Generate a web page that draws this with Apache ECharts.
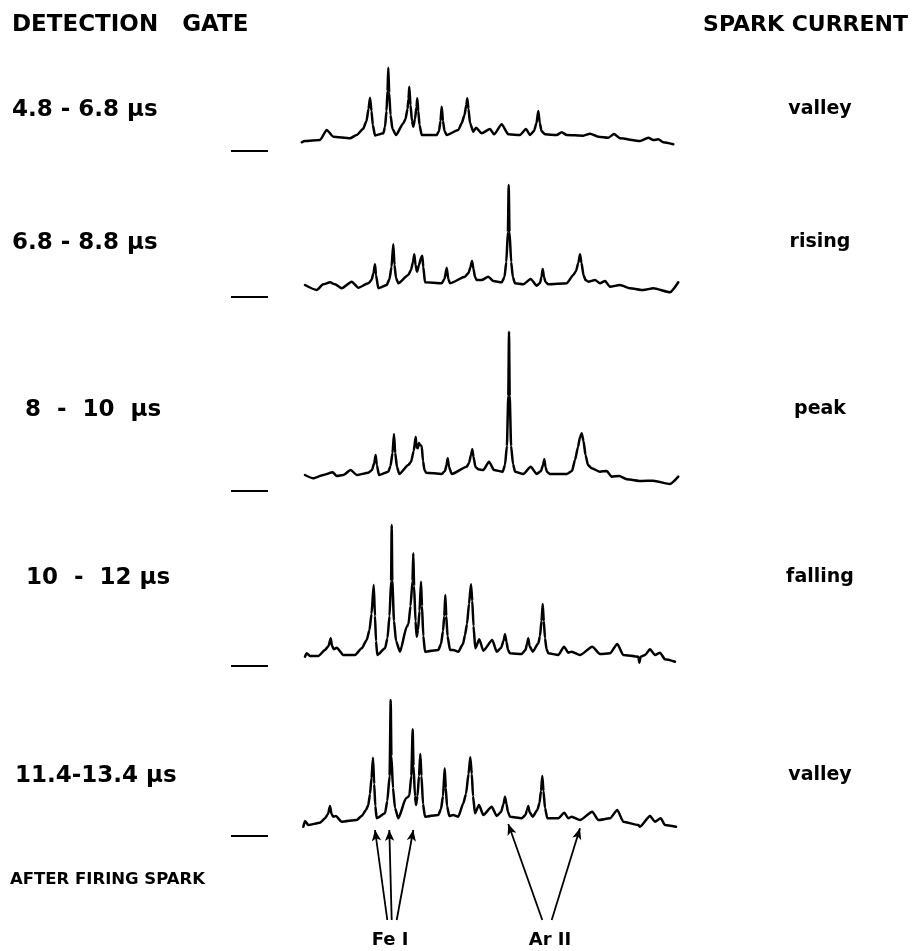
<!DOCTYPE html>
<html>
<head>
<meta charset="utf-8">
<script src="https://cdn.jsdelivr.net/npm/echarts@6/dist/echarts.min.js"></script>
<style>
  html, body { margin: 0; padding: 0; background: #fff; }
  #chart { width: 914px; height: 951px; }
</style>
</head>
<body>
<div id="chart"></div>
<script>
// Time-resolved emission spectra of a spark, one trace per detection gate.
// Each trace: [scan position, intensity above the zero mark].
const gateLabels = ['4.8 - 6.8 μs', '6.8 - 8.8 μs', '8  -  10  μs', '10  -  12 μs', '11.4-13.4 μs'];
const currentLabels = ['valley', 'rising', 'peak', 'falling', 'valley'];

const gate48 = [
  [1.7, 8.7], [5, 10], [20, 11], [26.7, 21], [33.3, 14.3], [50, 12.7], [56.7, 16], [63, 22],
  [66.5, 30], [68.5, 42], [70, 53.3], [71.5, 40], [72.8, 26], [75, 15.5], [83.3, 17.7],
  [85, 24], [86.5, 40], [87.5, 60], [88.3, 83.3], [89.2, 58], [90.5, 36], [92.5, 22], [96, 16],
  [103.3, 27.7], [105.5, 32], [107.5, 42], [108.5, 52], [109.3, 64.3], [110.5, 46], [112, 30],
  [113.3, 24.3], [115, 32], [116.5, 44], [117.3, 52.7], [118.3, 40], [119.5, 26], [121.7, 16],
  [136.7, 16], [139, 20], [140.5, 30], [141.7, 44.3], [143, 30], [144.5, 20], [146.7, 16],
  [158.3, 21], [161.7, 27.7], [164.5, 36], [166.3, 46], [167.3, 52.7], [168.5, 42], [170, 28],
  [173.3, 19.3], [176, 23.3], [181.7, 17.7], [190, 22], [194, 16.7], [201.7, 26.7], [208.3, 16.7],
  [220, 16], [226, 22], [230, 16], [234, 20], [236.5, 28], [238.3, 40], [239.8, 28], [241.5, 20],
  [245, 16.7], [256.7, 16], [261.7, 18.7], [266.7, 16], [283.3, 15.3], [290, 17.3], [298.3, 14.3],
  [308.3, 13.3], [314, 17], [320, 12.7], [340, 10], [348.3, 13.3], [353.3, 11], [358.3, 11.7],
  [363.3, 8.7], [373.3, 6.7]
];
const gate68 = [
  [5, 12], [16.7, 7], [23.3, 12.7], [30, 14.7], [35, 12.7], [41.7, 8.7], [51.7, 15.3], [58.3, 9.3],
  [68.3, 13.7], [71.5, 17], [73.5, 24], [75, 32.7], [76, 22], [78.3, 8.7], [86.7, 12],
  [89.5, 18], [91.5, 30], [93.3, 52.7], [94.5, 32], [96, 19], [98.3, 13.7],
  [108.3, 22], [111, 27], [113, 35], [114.3, 42.7], [115.5, 32], [117, 25.3], [119, 32], [121, 39],
  [122.3, 41.3], [123.3, 30], [125, 14.7], [141.7, 13.7], [144.5, 18], [146.7, 29.3], [148.3, 18],
  [150, 13.7], [165, 20.3], [168.5, 24], [170.5, 30], [172, 36], [173.5, 28], [175, 20], [176.7, 17],
  [181.7, 17], [188.3, 20.3], [193.3, 16], [201.7, 14.7], [204.5, 20], [206.3, 35], [207.9, 65],
  [208.7, 112], [209.5, 65], [211.2, 35], [212.8, 20], [215, 13.7], [223.3, 12.7], [230.7, 18],
  [236.7, 11.3], [240, 14], [241.5, 20], [242.7, 28], [244, 20], [245.5, 15], [248.3, 12.7],
  [266.7, 13.7], [273.3, 22], [276, 26], [278.3, 34], [280, 42.7], [281.5, 34], [283.5, 22],
  [285.5, 17], [288.3, 15.3], [295, 17], [300, 13.7], [305, 16], [310, 10.3], [320, 12], [330, 8.7],
  [343.3, 7], [353.3, 8.7], [370, 4.7], [378.3, 14.7]
];
const gate80 = [
  [5, 16], [13.3, 12.7], [23.3, 16], [32.7, 18.7], [36.7, 15], [43.3, 16], [50.7, 21], [56.7, 16],
  [68.3, 18.3], [72, 21], [74.2, 28], [75.7, 36], [76.8, 26], [79, 16], [88.3, 19.3], [90.5, 25],
  [92.5, 38], [94, 57], [95.2, 38], [97, 24], [99.3, 17], [108.3, 26], [111, 29], [113.7, 40],
  [115.7, 54.3], [116.5, 44], [117.7, 42.7], [119, 48], [120, 46], [121.7, 45], [123, 30],
  [124.5, 21], [126, 18.3], [141.7, 17], [145, 20], [146.5, 26], [147.7, 32.7], [149, 24],
  [151.7, 17], [166.7, 24.3], [169, 28], [171, 36], [172.3, 41.7], [173.5, 34], [175.5, 24],
  [178.3, 21.7], [183.3, 21], [189, 29.3], [194, 21], [202.7, 19.3], [205, 26], [206.9, 45],
  [208.3, 95], [209, 159.3], [209.7, 95], [211.1, 45], [213, 27], [215, 19.3], [223.3, 17],
  [230.7, 24.3], [236.7, 17], [241, 20], [243, 26], [244.3, 31.7], [245.5, 24], [247, 19], [250, 17],
  [266.7, 17], [272, 20], [275, 31], [278, 44], [280, 54], [281.7, 57.7], [283.5, 50], [285.5, 36],
  [288, 26], [291.7, 22.7], [300, 19.3], [306.7, 20], [311.7, 14.3], [319.3, 15], [326.7, 11.7],
  [341.7, 10], [353.3, 10.3], [370, 7], [378.3, 14.3]
];
const gate100 = [
  [5, 9.3], [6.7, 12.7], [10, 10], [18.3, 10], [25, 16], [28.5, 20], [30.7, 27.7], [32, 20],
  [34, 16.7], [36.7, 18.3], [43.3, 11], [55, 11], [61.7, 17.7], [66.7, 26], [69.5, 36], [71.5, 52],
  [73.7, 81], [75, 50], [76, 25], [77.3, 11], [85, 17.7], [87.5, 28], [89.5, 50], [91.1, 85],
  [91.7, 141], [92.3, 85], [94, 45], [96, 25], [100, 14.3], [106.7, 39.3], [108.5, 42], [110.5, 60],
  [112.5, 85], [113.3, 112.7], [114.1, 80], [115.5, 45], [116.7, 29.3], [118, 36], [119.5, 55],
  [121, 84.3], [122, 60], [123.3, 30], [125, 14.3], [138.3, 16], [141, 22], [143, 35], [144.3, 50],
  [145.3, 71], [146.3, 50], [147.5, 30], [150, 16], [153.3, 16], [158.3, 14.3], [163, 22], [165, 31],
  [167, 42], [169, 62], [171, 81.7], [172.3, 65], [173.5, 40], [175.3, 17.7], [179.3, 26.7],
  [183.3, 15.3], [192.3, 26], [196.7, 14.3], [201, 18], [203.5, 25], [205, 31.7], [206.5, 24],
  [208, 16], [210, 12.7], [221.7, 12], [225.5, 16], [227, 22], [228.3, 27.7], [229.5, 20],
  [232.7, 14.3], [238.3, 22.7], [240, 30], [241.5, 45], [242.7, 62], [243.8, 45], [245, 28],
  [246.5, 17], [248.3, 12.7], [258.3, 11], [264, 19.3], [268.3, 13.3], [271.7, 14.3], [280, 11],
  [292.3, 19.3], [300, 12], [310, 12.7], [317.3, 22], [323.3, 11], [338.3, 9.3], [339.3, 3.3],
  [340.7, 9.3], [345, 11], [350, 16.7], [355, 11], [360, 13.3], [365, 6.7], [375, 4.3]
];
const gate114 = [
  [3.3, 9.3], [5, 15], [8.3, 11], [20, 13.3], [25, 17.7], [28, 22], [30, 30], [31.5, 22],
  [33.3, 19.3], [35.7, 20], [41.7, 14.3], [56.7, 16], [61.7, 20], [66, 26], [68.3, 31], [70, 42],
  [71.5, 58], [73, 78.3], [74.2, 52], [75.3, 30], [76.7, 17.7], [85, 22.7], [87.3, 35], [89.6, 60],
  [90.7, 136], [91.4, 80], [93, 48], [95, 28], [98.3, 17.7], [106, 37.7], [109.3, 40], [111.3, 60],
  [112.7, 106.7], [113.5, 70], [115, 40], [116, 31], [117.5, 40], [119, 60], [120.3, 82],
  [121.5, 60], [123, 32], [125, 19.3], [138.3, 21], [141, 27], [143, 40], [144.7, 67.7],
  [145.8, 48], [147, 30], [149.3, 20], [153.3, 21], [158.3, 19.3], [163.3, 32.7], [166, 42],
  [168.5, 62], [170.3, 78.7], [171.8, 62], [173, 40], [175, 22.7], [179, 31], [183.3, 21],
  [191.7, 29.3], [196.7, 20], [201, 24], [203.5, 32], [205, 39.3], [206.5, 32], [208, 24],
  [210, 19.3], [221.7, 17.7], [225.5, 21], [227, 26], [228.3, 30], [229.5, 24], [232.7, 19.3],
  [237.3, 26], [239.5, 33], [241, 45], [242.3, 60], [243.5, 45], [245, 28], [247.3, 17.7],
  [258.3, 17.7], [264.3, 23.3], [268.3, 17.7], [271.7, 19.3], [280, 16], [292.3, 24.3], [298.3, 16],
  [310, 17.7], [317.3, 26], [323.3, 14.3], [338.3, 11], [340, 9.3], [350, 20], [355, 14.3],
  [360.7, 17.7], [365, 11], [376, 9.3]
];
const spectra = [gate48, gate68, gate80, gate100, gate114];

// Line identifications under the last trace: [tail, head] in trace coordinates.
const feLines = [[[87.3, -84], [75, 6]], [[91.7, -84], [89.3, 6]], [[96.7, -84], [113.3, 6]]];
const arLines = [[[242.3, -84], [208.3, 12]], [[251.7, -84], [280, 7.7]]];

// Layout: pixel row of each trace's zero mark, headroom above it, room below it.
const zeroRows = [151, 297, 491, 666, 836];
const headroom = [100, 120, 170, 150, 145];
const below = [0, 0, 0, 0, 90];

const FONT = 'DejaVu Sans';
const grids = [], xAxes = [], yAxes = [], series = [];

spectra.forEach((data, i) => {
  // the plot area starts at the zero mark; the scan itself starts 32 units in
  grids.push({
    left: 268, width: 412,
    top: zeroRows[i] - headroom[i],
    height: headroom[i] + below[i]
  });
  xAxes.push({
    type: 'value', gridIndex: i, min: -32, max: 380,
    show: false
  });
  yAxes.push({
    type: 'value', gridIndex: i, min: -below[i], max: headroom[i],
    position: 'left',
    splitLine: { show: false },
    axisLine: { show: false, onZero: false },
    axisLabel: { show: false },
    axisTick: {
      show: true, length: 37, inside: false,
      customValues: [0],
      lineStyle: { color: '#000', width: 2 }
    }
  });
  const s = {
    type: 'line', xAxisIndex: i, yAxisIndex: i,
    data: data, showSymbol: false, symbol: 'none',
    smooth: 0.2, smoothMonotone: 'x',
    clip: false,
    lineStyle: { color: '#000', width: 2.5, join: 'round', cap: 'round' },
    animation: false
  };
  if (i === spectra.length - 1) {
    s.markLine = {
      silent: true,
      symbol: ['none', 'arrow'],
      symbolSize: [7, 11],
      label: { show: false },
      lineStyle: { color: '#000', width: 1.8, type: 'solid' },
      data: feLines.concat(arLines).map(([tail, head]) => [{ coord: tail }, { coord: head }]),
      animation: false
    };
  }
  series.push(s);
});

const textEls = [];
const txt = (x, y, text, size, align) => textEls.push({
  type: 'text', x: x, y: y,
  style: {
    text: text, fill: '#000', font: `bold ${size}px "${FONT}"`,
    textAlign: align, textVerticalAlign: 'middle'
  }
});

txt(12, 25, 'DETECTION   GATE', 23, 'left');
txt(908, 25, 'SPARK CURRENT', 22, 'right');
const gateRows = [110, 243, 410, 578, 776];
const gateX = [12, 12, 25, 26, 15];
gateLabels.forEach((t, i) => txt(gateX[i], gateRows[i], t, 23, 'left'));
currentLabels.forEach((t, i) => txt(820, gateRows[i] - 1, t, 19, 'center'));
txt(10, 880, 'AFTER FIRING SPARK', 16.5, 'left');
txt(390, 940, 'Fe I', 18, 'center');
txt(550, 940, 'Ar II', 18, 'center');

const chart = echarts.init(document.getElementById('chart'), null, { renderer: 'canvas' });
chart.setOption({
  backgroundColor: '#fff',
  animation: false,
  grid: grids,
  xAxis: xAxes,
  yAxis: yAxes,
  series: series,
  graphic: textEls
});
</script>
</body>
</html>
